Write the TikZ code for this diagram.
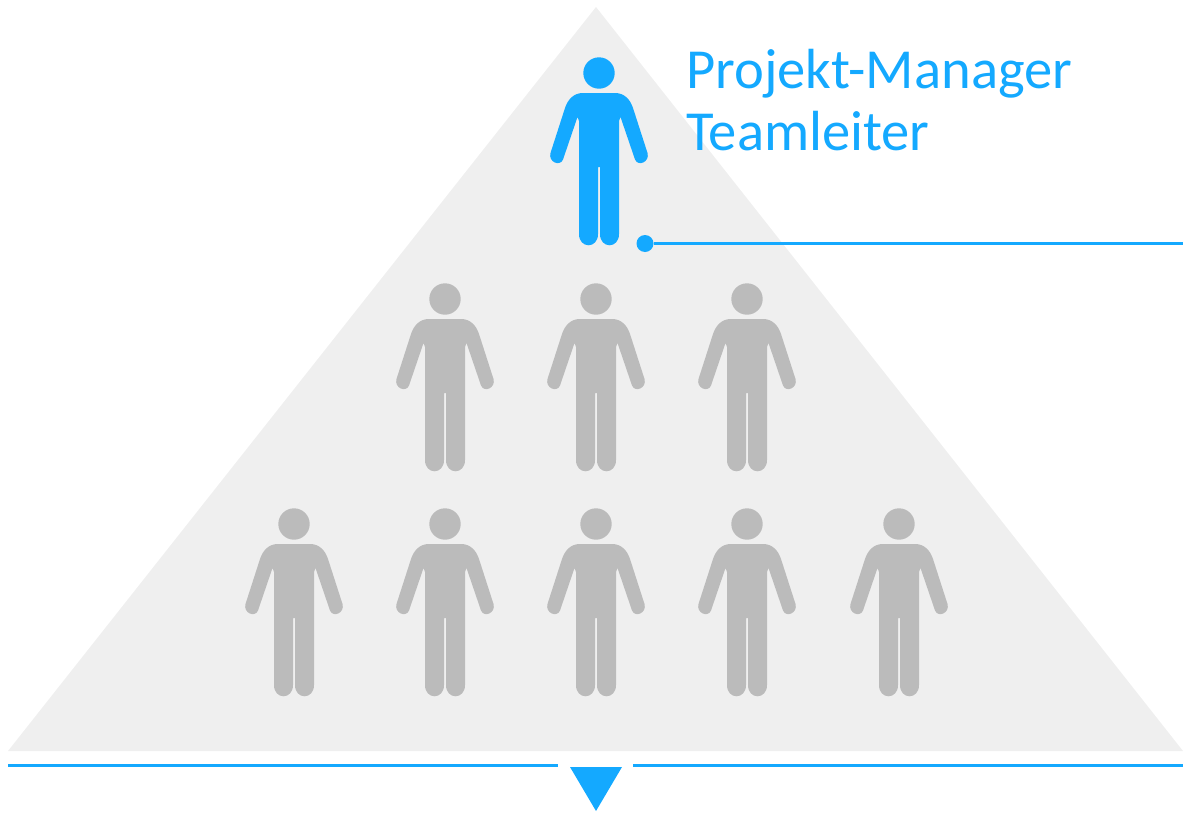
\documentclass[tikz,border=0pt]{standalone}
\usepackage{fontspec}
\setmainfont{Carlito}
\usetikzlibrary{calc}
\definecolor{leadblue}{HTML}{14A9FF}
\definecolor{teamgrey}{HTML}{BBBBBB}
\definecolor{pyramidgrey}{HTML}{EFEFEF}
\tikzstyle{bluedot} = [circle, fill=leadblue, inner sep=0pt, minimum size=0.34cm]
\tikzstyle{blueline} = [draw=leadblue, line width=0.043cm]
\tikzstyle{title} = [text=leadblue, font=\fontsize{32.2}{35}\selectfont, align=left, inner sep=0pt]
\tikzset{
    person/.pic={
        \fill[pic actions] (0,0) circle (15.7);
        \fill[pic actions] (0,20) -- (16,20) .. controls (25,20) and (31,26) .. (34,35)
            -- (48.5,80) .. controls (51,89) and (39,94) .. (36,86.5)
            -- (21.5,44) -- (20,48) -- (20,161)
            .. controls (20,176) and (1,176) .. (1,161) -- (1,94) -- (-1,94) -- (-1,161)
            .. controls (-1,176) and (-20,176) .. (-20,161) -- (-20,48) -- (-21.5,44)
            -- (-36,86.5) .. controls (-39,94) and (-51,89) .. (-48.5,80)
            -- (-34,35) .. controls (-31,26) and (-25,20) .. (-16,20) -- cycle;
    }
}
\begin{document}
\begin{tikzpicture}[x=0.02cm, y=-0.02cm]

        \useasboundingbox (0,0) rectangle (1183,815);

        \fill[pyramidgrey] (596,7) -- (1183,751) -- (8,751) -- cycle;

        % team
        \foreach \x in {445,596,747}
            \pic[fill=teamgrey] at (\x,299) {person};
        \foreach \x in {294,445,596,747,899}
            \pic[fill=teamgrey] at (\x,524) {person};

        % lead
        \pic[fill=leadblue] at (599,73) {person};
        \node (role) [title, anchor=north west] at (686,49) {Projekt-Manager\\Teamleiter};

        \node (dot) [bluedot] at (645,243.5) {};
        \coordinate (dotend) at (1183,243.5);
        \draw [blueline] (dot) -- (dotend);

        % base line
        \coordinate (leftstart) at (8,765.5);
        \coordinate (leftend) at (558,765.5);
        \coordinate (rightstart) at (633,765.5);
        \coordinate (rightend) at (1183,765.5);
        \draw [blueline] (leftstart) -- (leftend);
        \draw [blueline] (rightstart) -- (rightend);

        \fill[leadblue] (570,767) -- (622,767) -- (596,811) -- cycle;

    \end{tikzpicture}
\end{document}
